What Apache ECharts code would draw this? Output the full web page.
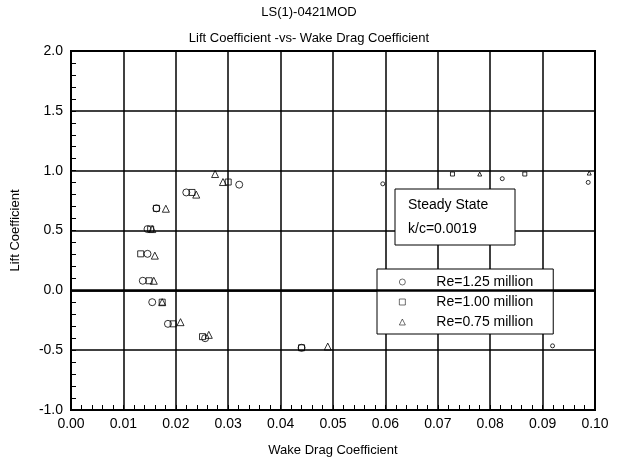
<!DOCTYPE html>
<html><head><meta charset="utf-8">
<script src="https://cdn.jsdelivr.net/npm/echarts@6/dist/echarts.min.js"></script>
<style>html,body{margin:0;padding:0;background:#fff}#c{width:618px;height:466px}</style>
</head><body><div id="c"></div>
<script>
const FONT = 'Liberation Sans, Arial, sans-serif';
const titleText = 'LS(1)-0421MOD';
const subTitleText = 'Lift Coefficient -vs- Wake Drag Coefficient';
const xName = 'Wake Drag Coefficient';
const yName = 'Lift Coefficient';
const seriesNames = ['Re=1.25 million', 'Re=1.00 million', 'Re=0.75 million'];

// [wake drag coefficient, lift coefficient]
const re125 = [
  [0.0321, 0.883], [0.0220, 0.818], [0.0163, 0.685], [0.0146, 0.512],
  [0.0146, 0.305], [0.0137, 0.080], [0.0155, -0.099], [0.0185, -0.280],
  [0.0256, -0.400], [0.0440, -0.480], [0.0595, 0.890], [0.0823, 0.933],
  [0.0987, 0.902], [0.0919, -0.464]
];
const re100 = [
  [0.0300, 0.905], [0.0231, 0.818], [0.0163, 0.685], [0.0152, 0.512],
  [0.0133, 0.305], [0.0149, 0.080], [0.0174, -0.099], [0.0195, -0.280],
  [0.0251, -0.387], [0.0440, -0.480], [0.0728, 0.972], [0.0866, 0.972]
];
const re075 = [
  [0.0275, 0.972], [0.0290, 0.905], [0.0239, 0.800], [0.0181, 0.682],
  [0.0155, 0.512], [0.0160, 0.290], [0.0158, 0.080], [0.0174, -0.099],
  [0.0209, -0.266], [0.0263, -0.372], [0.0490, -0.470], [0.0780, 0.972],
  [0.0989, 0.980]
];
const annotationLines = ['Steady State', 'k/c=0.0019'];

const chart = echarts.init(document.getElementById('c'), null, {renderer: 'canvas'});
const hollow = {color: 'rgba(0,0,0,0)', borderColor: '#000', borderWidth: 1};
function sizeFn(big, small) {
  return function (v) { return v[0] > 0.055 ? small : big; };
}
const option = {
  backgroundColor: '#fff',
  animation: false,
  title: [
    {text: titleText, left: 'center', top: 6, padding: [0, 0, 0, 50],
     textStyle: {fontSize: 13, fontWeight: 'normal', color: '#000', fontFamily: FONT}},
    {text: subTitleText, left: 'center', top: 32, padding: [0, 0, 0, 50],
     textStyle: {fontSize: 13, fontWeight: 'normal', color: '#000', fontFamily: FONT}}
  ],
  grid: {left: 71, right: 23, top: 51, bottom: 56, show: true, borderColor: '#000', borderWidth: 2, containLabel: false},
  xAxis: {
    type: 'value', min: 0, max: 0.1, interval: 0.01,
    name: xName, nameLocation: 'middle', nameGap: 34,
    nameTextStyle: {fontSize: 13, color: '#000', fontFamily: FONT},
    axisLine: {show: true, onZero: false, lineStyle: {color: '#000', width: 2}},
    axisTick: {show: true, inside: true, length: 5, lineStyle: {color: '#000'}},
    minorTick: {show: true, splitNumber: 5, length: 5, lineStyle: {color: '#000'}},
    axisLabel: {formatter: v => v.toFixed(2), fontSize: 14, color: '#000', fontFamily: FONT, margin: 7},
    splitLine: {show: true, lineStyle: {color: '#000', width: 1.5}}
  },
  yAxis: {
    type: 'value', min: -1, max: 2, interval: 0.5,
    name: yName, nameLocation: 'middle', nameGap: 49, nameRotate: 90,
    nameTextStyle: {fontSize: 13, color: '#000', fontFamily: FONT},
    axisLine: {show: true, onZero: false, lineStyle: {color: '#000', width: 2}},
    axisTick: {show: true, inside: true, length: 5, lineStyle: {color: '#000'}},
    minorTick: {show: true, splitNumber: 5, length: 5, lineStyle: {color: '#000'}},
    axisLabel: {formatter: v => v.toFixed(1), fontSize: 14, color: '#000', fontFamily: FONT, margin: 8},
    splitLine: {show: true, lineStyle: {color: '#000', width: 1.5}}
  },
  legend: {
    orient: 'vertical', left: 377, top: 269,
    backgroundColor: '#fff', borderColor: '#000', borderWidth: 1,
    padding: [6, 20, 5, 22], itemGap: 6, itemWidth: 6, itemHeight: 6,
    itemStyle: {borderWidth: 0.7},
    formatter: n => '{s|}' + n,
    textStyle: {fontSize: 14, color: '#000', fontFamily: FONT, lineHeight: 14,
      rich: {s: {width: 26}}},
    data: seriesNames
  },
  series: [
    {name: seriesNames[0], type: 'scatter', symbol: 'circle', symbolSize: sizeFn(7, 4), itemStyle: hollow, data: re125, z: 5,
     markLine: {silent: true, symbol: 'none', label: {show: false}, lineStyle: {color: '#000', width: 2.5, type: 'solid'}, data: [{yAxis: 0}]}},
    {name: seriesNames[1], type: 'scatter', symbol: 'rect', symbolSize: sizeFn(6, 4), itemStyle: hollow, data: re100, z: 5},
    {name: seriesNames[2], type: 'scatter', symbol: 'triangle', symbolSize: sizeFn(7, 4), itemStyle: hollow, data: re075, z: 5}
  ],
  graphic: [
    {type: 'rect', z: 100, shape: {x: 395, y: 189, width: 120, height: 56},
     style: {fill: '#fff', stroke: '#000', lineWidth: 1}},
    {type: 'text', z: 101, x: 408, y: 205,
     style: {text: annotationLines[0], fontSize: 14, fill: '#000', fontFamily: FONT, verticalAlign: 'middle'}},
    {type: 'text', z: 101, x: 408, y: 229,
     style: {text: annotationLines[1], fontSize: 14, fill: '#000', fontFamily: FONT, verticalAlign: 'middle'}}
  ]
};
chart.setOption(option);
</script>
</body></html>
